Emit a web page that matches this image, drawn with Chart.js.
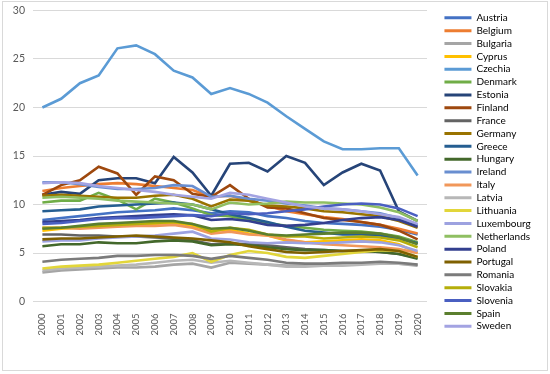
<!DOCTYPE html>
<html>
<head>
<meta charset="utf-8">
<script src="https://cdn.jsdelivr.net/npm/chart.js@4.4.1/dist/chart.umd.min.js"></script>
<style>
  html, body { margin: 0; padding: 0; background: #fff; }
  #wrap { width: 550px; height: 374px; position: relative; }
</style>
</head>
<body>
<div id="wrap"><canvas id="chart" width="550" height="374"></canvas></div>
<script>
const years = ["2000","2001","2002","2003","2004","2005","2006","2007","2008","2009","2010",
  "2011","2012","2013","2014","2015","2016","2017","2018","2019","2020"];
const yTicks = [0, 5, 10, 15, 20, 25, 30];

const austria    = [8.4, 8.6, 8.8, 9.0, 9.2, 9.3, 9.4, 9.6, 9.4, 9.1, 9.3, 9.2, 8.8, 8.6, 8.3, 8.1, 8.0, 7.9, 7.7, 7.4, 6.9];
const belgium    = [11.4, 11.7, 11.9, 12.1, 12.2, 12.1, 11.9, 11.7, 11.5, 10.8, 10.9, 10.4, 9.9, 9.3, 9.0, 8.7, 8.5, 8.2, 7.9, 7.5, 7.0];
const bulgaria   = [3.0, 3.2, 3.3, 3.4, 3.5, 3.5, 3.6, 3.8, 3.9, 3.5, 4.0, 3.9, 3.8, 3.7, 3.7, 3.8, 3.8, 3.9, 4.0, 3.9, 3.7];
const cyprus     = [7.3, 7.5, 7.6, 7.7, 7.8, 7.9, 8.0, 8.1, 7.8, 7.3, 7.4, 7.0, 6.8, 6.3, 6.1, 6.2, 6.3, 6.4, 6.3, 5.9, 5.0];
const czechia    = [20.0, 20.9, 22.5, 23.3, 26.1, 26.4, 25.5, 23.8, 23.1, 21.4, 22.0, 21.4, 20.5, 19.1, 17.8, 16.5, 15.7, 15.7, 15.8, 15.8, 13.0];
const denmark    = [10.2, 10.4, 10.4, 11.2, 10.5, 9.5, 10.6, 10.2, 9.6, 8.9, 8.8, 8.4, 8.1, 7.8, 7.6, 7.4, 7.3, 7.2, 7.0, 6.7, 6.1];
const estonia    = [11.0, 11.3, 11.1, 12.5, 12.7, 12.7, 12.2, 14.9, 13.3, 10.9, 14.2, 14.3, 13.4, 15.0, 14.3, 12.0, 13.3, 14.2, 13.5, 9.3, 8.3];
const finland    = [11.0, 12.0, 12.5, 13.9, 13.2, 11.0, 12.9, 12.5, 11.1, 10.8, 12.0, 10.6, 9.7, 9.6, 9.1, 8.6, 8.4, 8.2, 7.9, 7.3, 6.4];
const france     = [6.9, 6.9, 6.8, 6.8, 6.7, 6.7, 6.6, 6.5, 6.3, 5.9, 6.0, 5.9, 5.8, 5.6, 5.4, 5.3, 5.2, 5.2, 5.1, 4.9, 4.5];
const germany    = [10.9, 11.0, 10.9, 10.8, 10.7, 10.7, 10.9, 11.0, 10.6, 9.8, 10.5, 10.4, 9.9, 9.8, 9.6, 9.3, 9.2, 9.0, 8.8, 8.3, 7.6];
const greece     = [9.3, 9.4, 9.5, 9.8, 9.9, 10.0, 10.1, 10.2, 10.0, 9.5, 9.0, 8.6, 8.2, 7.7, 7.3, 7.1, 6.9, 6.9, 6.8, 6.5, 6.0];
const hungary    = [5.7, 5.9, 5.9, 6.1, 6.0, 6.0, 6.2, 6.3, 6.2, 5.8, 5.9, 5.8, 5.6, 5.4, 5.3, 5.3, 5.2, 5.2, 5.1, 4.9, 4.4];
const ireland    = [12.3, 12.3, 12.1, 11.8, 11.6, 11.6, 11.7, 12.0, 11.9, 10.8, 10.9, 10.6, 10.4, 10.1, 9.9, 9.6, 9.5, 9.3, 9.1, 8.6, 7.9];
const italy      = [7.6, 7.6, 7.5, 7.6, 7.7, 7.8, 7.8, 7.9, 7.6, 7.0, 7.2, 6.9, 6.8, 6.4, 6.1, 5.9, 5.8, 5.7, 5.6, 5.4, 5.0];
const latvia     = [3.2, 3.4, 3.5, 3.6, 3.7, 3.8, 4.0, 4.2, 4.3, 4.0, 4.2, 4.0, 3.8, 3.6, 3.6, 3.7, 3.7, 3.8, 3.9, 3.9, 3.8];
const lithuania  = [3.4, 3.6, 3.7, 3.8, 4.0, 4.2, 4.4, 4.6, 5.0, 4.1, 4.8, 5.2, 5.0, 4.6, 4.5, 4.7, 4.9, 5.1, 5.3, 5.2, 4.6];
const luxembourg = [6.2, 6.3, 6.3, 6.5, 6.6, 6.7, 6.8, 7.0, 7.2, 6.5, 6.4, 6.1, 6.0, 6.1, 6.0, 6.0, 6.1, 6.2, 6.1, 5.8, 5.2];
const netherlands= [10.7, 10.8, 10.7, 10.6, 10.4, 10.3, 10.2, 10.1, 10.0, 9.5, 10.2, 10.0, 10.1, 10.3, 10.2, 10.2, 10.1, 10.0, 9.7, 9.2, 8.3];
const poland     = [8.2, 8.3, 8.4, 8.6, 8.7, 8.8, 8.9, 9.0, 8.9, 8.4, 8.5, 8.3, 7.9, 7.8, 7.9, 8.1, 8.4, 8.6, 8.7, 8.4, 7.7];
const portugal   = [6.4, 6.5, 6.5, 6.6, 6.7, 6.8, 6.7, 6.6, 6.5, 6.3, 6.1, 5.7, 5.4, 5.1, 5.0, 5.1, 5.2, 5.3, 5.4, 5.2, 4.6];
const romania    = [4.1, 4.3, 4.4, 4.5, 4.7, 4.7, 4.8, 4.8, 4.7, 4.4, 4.7, 4.5, 4.3, 4.0, 3.9, 3.9, 4.0, 4.0, 4.1, 4.0, 3.8];
const slovakia   = [7.6, 7.6, 7.7, 7.8, 7.9, 8.0, 8.1, 8.2, 8.0, 7.2, 7.6, 7.4, 6.9, 6.7, 6.7, 6.5, 6.6, 6.7, 6.6, 6.3, 5.6];
const slovenia   = [8.0, 8.1, 8.3, 8.5, 8.6, 8.6, 8.7, 8.8, 8.9, 8.8, 9.1, 9.0, 9.1, 9.3, 9.5, 9.8, 10.0, 10.1, 10.0, 9.6, 8.8];
const spain      = [7.5, 7.6, 7.8, 8.0, 8.1, 8.2, 8.3, 8.3, 8.0, 7.5, 7.6, 7.3, 6.9, 6.8, 6.9, 7.0, 7.1, 7.1, 7.0, 6.6, 5.9];
const sweden     = [12.2, 12.3, 12.2, 11.9, 11.7, 11.5, 11.3, 11.0, 10.8, 10.6, 11.2, 11.0, 10.6, 10.2, 9.8, 9.6, 9.5, 9.3, 9.0, 8.7, 8.0];

const countries = ["Austria","Belgium","Bulgaria","Cyprus","Czechia","Denmark","Estonia","Finland",
  "France","Germany","Greece","Hungary","Ireland","Italy","Latvia","Lithuania","Luxembourg",
  "Netherlands","Poland","Portugal","Romania","Slovakia","Slovenia","Spain","Sweden"];
const values = [austria, belgium, bulgaria, cyprus, czechia, denmark, estonia, finland,
  france, germany, greece, hungary, ireland, italy, latvia, lithuania, luxembourg,
  netherlands, poland, portugal, romania, slovakia, slovenia, spain, sweden];

// excel-like palette, one per country
const palette = ["#4472C4","#ED7D31","#A5A5A5","#FFC000","#5B9BD5","#70AD47","#264478","#9E480E",
  "#636363","#997300","#255E91","#43682B","#698ED0","#F1975A","#B7B7B7","#E2D63A","#9DA2E0",
  "#8FBF62","#333F8F","#7F6000","#7B7B7B","#B5AE0A","#4A5FC1","#5B7F2E","#A3A3E2"];

const datasets = countries.map((name, i) => ({
  label: name,
  data: values[i],
  borderColor: palette[i],
  backgroundColor: palette[i],
  borderWidth: 2.6,
  pointRadius: 0,
  tension: 0,
  fill: false,
  order: countries.length - i // later series drawn on top, like excel
}));

const frame = {
  id: "frame",
  beforeDraw(chart) {
    const ctx = chart.ctx;
    ctx.save();
    ctx.fillStyle = "#fff";
    ctx.fillRect(0, 0, chart.width, chart.height);
    ctx.strokeStyle = "#d9d9d9";
    ctx.lineWidth = 1;
    ctx.strokeRect(2.5, 1.5, 545, 369);
    ctx.restore();
  }
};

// fixed legend width, and draw its items a bit to the right of the plot
const legendShift = {
  id: "legendShift",
  afterInit(chart) {
    const lg = chart.legend;
    const fit = lg.fit.bind(lg);
    lg.fit = function () { fit(); this.width = 115; };
    const draw = lg.draw.bind(lg);
    lg.draw = function () {
      const ctx = this.ctx;
      ctx.save();
      ctx.translate(14.6, -0.5);
      draw();
      ctx.restore();
    };
  }
};

new Chart(document.getElementById("chart"), {
  type: "line",
  data: { labels: years, datasets: datasets },
  plugins: [frame, legendShift],
  options: {
    responsive: false,
    animation: false,
    layout: { padding: { top: 10.5, right: 8, bottom: 0, left: 0 } },
    scales: {
      x: {
        offset: true,
        grid: { display: false },
        border: { display: false },
        ticks: {
          color: "#595959",
          font: { family: "Lato", size: 9.5 },
          minRotation: 90,
          maxRotation: 90,
          autoSkip: false,
          padding: 4
        },
        afterFit: (s) => { s.height = 72.5; s.paddingLeft = 0; s.paddingRight = 0; }
      },
      y: {
        min: 0,
        max: 30,
        afterBuildTicks: (s) => { s.ticks = yTicks.map((v) => ({ value: v })); },
        grid: { color: "#d9d9d9", lineWidth: 1, drawTicks: false },
        border: { display: false },
        ticks: {
          color: "#595959",
          font: { family: "Lato", size: 10.5 },
          padding: 8
        },
        afterFit: (s) => { s.width = 33; s.paddingTop = 0; s.paddingBottom = 0; }
      }
    },
    plugins: {
      tooltip: { enabled: false },
      legend: {
        position: "right",
        align: "start",
        labels: {
          boxWidth: 27,
          boxHeight: 3,
          padding: 2.85,
          color: "#595959",
          font: { family: "Lato", size: 10, lineHeight: 1 },
          sort: (a, b) => a.datasetIndex - b.datasetIndex,
          generateLabels: (chart) => chart.data.datasets.map((d, i) => ({
            text: d.label,
            fillStyle: d.borderColor,
            strokeStyle: d.borderColor,
            lineWidth: 0,
            hidden: false,
            datasetIndex: i
          }))
        }
      }
    }
  }
});
</script>
</body>
</html>
